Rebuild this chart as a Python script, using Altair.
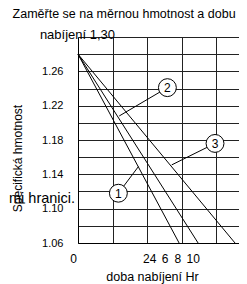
import altair as alt
import pandas as pd

FONT = "Liberation Sans"

# ---- scales / axes ----
x_domain = [0, 9.33]
y_domain = [1.06, 1.30]
x_grid_values = [0, 2, 4, 6, 8]
y_grid_values = [1.06, 1.08, 1.10, 1.12, 1.14, 1.16, 1.18, 1.20, 1.22, 1.24, 1.26, 1.28, 1.30]

# ---- charging lines ----
line_ids = ["1", "2", "3"]
line_start_x = [0, 0, 0]
line_start_y = [1.28, 1.28, 1.28]
line_end_x = [5.86, 6.96, 9.10]
line_end_y = [1.06, 1.06, 1.06]

# ---- numbered markers and leaders ----
marker_labels = ["1", "2", "3"]
marker_x = [2.34, 5.18, 7.94]
marker_y = [1.118, 1.241, 1.176]
leader_x = [3.50, 2.39, 5.43]
leader_y = [1.149, 1.208, 1.151]

# ---- x tick labels (as drawn) ----
xtick_labels = ["0", "2", "4", "6", "8", "10"]
xtick_x = [-0.26, 3.96, 4.35, 5.04, 5.79, 6.68]
xtick_y = [1.0414] * 6

# ---- loose texts ----
title_text = ["Zaměřte se na měrnou hmotnost a dobu"]
title_x = [2.67]
title_y = [1.3221]
top_label = ["nabíjení 1,30"]
top_x = [-0.03]
top_y = [1.2977]
side_text = ["mi hranici."]
side_x = [-0.17]
side_y = [1.111]

x_title = "doba nabíjení Hr"
y_title = "Specifická hmotnost"

# ---- tables ----
lines_df = pd.DataFrame({
    "id": line_ids * 2,
    "x": line_start_x + line_end_x,
    "y": line_start_y + line_end_y,
})
leaders_df = pd.DataFrame({
    "id": marker_labels * 2,
    "x": marker_x + leader_x,
    "y": marker_y + leader_y,
})
markers_df = pd.DataFrame({"label": marker_labels, "x": marker_x, "y": marker_y})
xticks_df = pd.DataFrame({"label": xtick_labels, "x": xtick_x, "y": xtick_y})
title_df = pd.DataFrame({"label": title_text, "x": title_x, "y": title_y})
top_df = pd.DataFrame({"label": top_label, "x": top_x, "y": top_y})
side_df = pd.DataFrame({"label": side_text, "x": side_x, "y": side_y})

x_enc = alt.X(
    "x:Q",
    scale=alt.Scale(domain=x_domain, nice=False, zero=False),
    axis=alt.Axis(
        values=x_grid_values, labels=False, ticks=False, grid=True,
        gridColor="#222", gridOpacity=1, domainColor="#000",
        title=x_title, titleFont=FONT, titleFontSize=12.5, titleFontWeight="normal",
        titleColor="#000", titleX=74, titleY=33, titleAlign="center",
        titleBaseline="middle", titleAnchor="start",
    ),
)
y_enc = alt.Y(
    "y:Q",
    scale=alt.Scale(domain=y_domain, nice=False, zero=False),
    axis=alt.Axis(
        values=y_grid_values, ticks=False, grid=True, gridColor="#222", gridOpacity=1,
        domainColor="#000",
        labelExpr="(round(datum.value*100) % 4 == 2 && datum.value < 1.27) ? format(datum.value, '.2f') : ''",
        labelFont=FONT, labelFontSize=11, labelColor="#000", labelPadding=15,
        title=y_title, titleFont=FONT, titleFontSize=12, titleFontWeight="normal",
        titleColor="#000", titleAngle=270, titleX=-60.5, titleY=121,
        titleAlign="center", titleBaseline="middle", titleAnchor="start",
    ),
)

lines = alt.Chart(lines_df).mark_line(color="#000", strokeWidth=1).encode(
    x=x_enc, y=y_enc, detail="id:N"
)
leaders = alt.Chart(leaders_df).mark_line(color="#000", strokeWidth=1).encode(
    x=x_enc, y=y_enc, detail="id:N"
)
circles = alt.Chart(markers_df).mark_circle(
    size=320, color="white", stroke="#000", strokeWidth=1, opacity=1
).encode(x=x_enc, y=y_enc)
circle_text = alt.Chart(markers_df).mark_text(
    font=FONT, fontSize=12, color="#000", align="center", baseline="middle", dy=0.5
).encode(x=x_enc, y=y_enc, text="label:N")
xticks = alt.Chart(xticks_df).mark_text(
    font=FONT, fontSize=12, color="#000", align="center", baseline="middle"
).encode(x=x_enc, y=y_enc, text="label:N")
title = alt.Chart(title_df).mark_text(
    font=FONT, fontSize=12.5, color="#000", align="center", baseline="alphabetic"
).encode(x=x_enc, y=y_enc, text="label:N")
top = alt.Chart(top_df).mark_text(
    font=FONT, fontSize=13, color="#000", align="center", baseline="alphabetic"
).encode(x=x_enc, y=y_enc, text="label:N")
side = alt.Chart(side_df).mark_text(
    font=FONT, fontSize=14.5, color="#000", align="right", baseline="middle"
).encode(x=x_enc, y=y_enc, text="label:N")

chart = alt.layer(lines, leaders, circles, circle_text, xticks, title, top, side).properties(
    width=161,
    height=206,
    padding={"left": 70, "top": 29, "right": 0, "bottom": 42},
    autosize=alt.AutoSizeParams(type="none"),
    background="white",
).configure_view(stroke=None)

chart.save("out.html", embed_options={"renderer": "svg", "actions": False})
